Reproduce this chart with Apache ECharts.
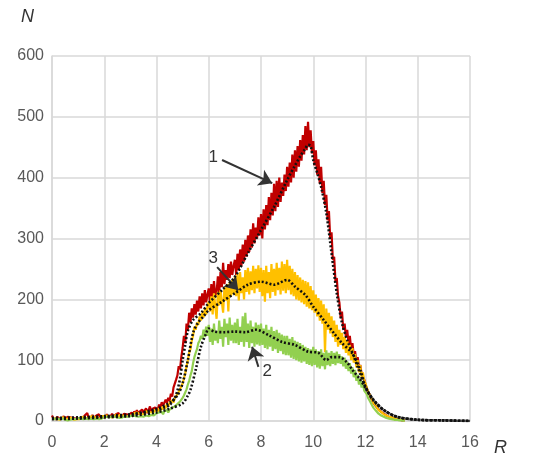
<!DOCTYPE html>
<html>
<head>
<meta charset="utf-8">
<script src="https://cdn.jsdelivr.net/npm/echarts@6/dist/echarts.min.js"></script>
<style>html,body{margin:0;padding:0;background:#fff}#c{width:550px;height:464px}</style>
</head>
<body>
<div id="c"></div>
<script>
// Sample positions R = 0.00 .. 13.50 (step 0.05) for the noisy curves, 20 values per unit of R
const R_STEP = 0.05;
const red1 = [
  9,4,6,3,7,5,3,6,4,8,3,5,7,4,6,3,5,8,4,6,
  5,8,4,7,5,9,6,13,5,8,6,10,5,7,9,6,11,5,8,6,
  9,6,11,7,10,8,12,7,9,11,8,13,7,10,8,12,9,11,8,10,
  11,14,10,16,12,18,11,15,13,19,14,17,21,13,18,24,15,20,17,22,
  24,19,27,22,31,25,28,35,30,38,33,45,40,55,52,68,75,90,85,105,
  120,140,128,160,150,178,162,185,170,192,175,198,180,205,185,210,190,215,195,208,
  218,192,225,200,230,205,212,238,210,245,220,260,225,248,232,258,235,262,240,255,
  265,240,275,248,282,255,290,262,298,270,305,278,315,285,325,292,318,300,335,305,
  340,300,348,315,355,322,368,330,375,338,390,345,395,352,400,360,392,370,405,378,
  418,385,425,392,438,400,445,410,452,418,462,428,470,438,485,445,492,450,478,440,
  460,420,445,405,430,390,418,375,395,355,372,330,345,300,310,265,270,230,235,205,
  195,170,180,150,160,138,150,128,140,118,128,108,115,98,105,88,92,78,80,68,
  60,54,48,44,38,34,30,27,24,21,19,17,15,13,12,10,9,8,7,6,
  6,5,4,4,3,3,2,2,1,1,1
];
const yellow3 = [
  5,2,4,6,3,5,2,4,6,3,5,4,2,6,3,5,4,2,5,3,
  6,3,5,7,4,6,8,4,5,7,4,8,5,6,9,5,7,4,8,6,
  8,5,9,6,7,10,6,9,7,11,6,8,10,7,9,12,7,10,8,11,
  9,12,8,13,10,14,11,12,15,11,14,12,16,13,15,18,14,17,15,19,
  18,15,21,17,23,19,25,21,28,24,30,27,34,30,38,36,44,42,52,50,
  62,70,78,90,100,112,118,132,140,155,150,162,158,172,165,178,170,185,175,188,
  196,180,205,175,210,188,168,212,190,215,196,178,220,198,225,180,228,204,232,208,
  238,205,242,198,245,210,236,200,248,212,252,208,246,215,255,210,250,218,256,212,
  252,205,248,196,255,210,245,202,258,212,250,206,260,215,252,208,262,214,258,210,
  265,215,255,208,250,205,245,200,240,198,236,195,232,192,230,188,228,185,222,182,
  215,178,208,172,202,165,198,160,192,113,185,150,178,144,172,138,165,130,158,122,
  150,125,145,118,138,112,132,108,125,100,120,96,110,88,100,80,92,72,80,66,
  62,54,48,44,40,35,30,27,25,22,18,16,15,13,11,10,9,8,7,6,
  6,5,4,4,3,3,2,2,2,1,1
];
const green2 = [
  4,2,3,1,4,2,3,2,4,3,2,4,1,3,2,4,3,1,3,2,
  5,3,4,6,3,5,4,6,3,5,4,7,3,5,4,6,3,5,4,6,
  6,4,7,5,6,4,8,5,7,4,6,8,5,7,6,4,8,5,7,6,
  8,6,9,7,8,10,7,9,8,11,7,10,9,12,8,11,10,13,9,12,
  13,10,14,12,15,11,16,13,18,14,19,16,22,19,24,21,28,26,32,30,
  38,42,45,52,60,66,75,82,95,105,112,118,128,132,140,135,150,138,155,140,
  158,130,152,125,160,132,148,128,165,135,155,122,168,138,160,125,170,132,158,128,
  162,128,168,125,155,130,172,122,178,130,160,120,165,128,155,122,162,126,158,124,
  160,125,152,120,158,118,150,122,155,115,148,118,150,112,145,115,142,110,140,108,
  140,108,135,104,138,102,132,100,130,98,128,96,125,98,122,94,120,92,118,90,
  122,92,118,88,115,86,118,90,112,85,116,92,112,90,115,94,112,92,114,95,
  110,94,106,90,104,86,98,82,95,78,88,72,84,66,76,60,70,55,62,50,
  50,44,38,34,30,26,22,19,17,14,12,10,9,8,7,6,5,4,4,3,
  3,3,2,2,2,1,1,1,1,0,0
];
// Smoothed (black dotted) curves
const avg1X = [0,1,2,3,3.5,4,4.3,4.5,4.7,4.8,4.9,5.0,5.1,5.2,5.4,5.7,6.0,6.5,7.0,7.5,8.0,8.5,9.0,9.3,9.5,9.7,9.8,9.9,10.0,10.15,10.3,10.5,10.7,10.9,11.1,11.3,11.5,11.7,12.0,12.3,12.7,13.2,14,15,16];
const avg1Y = [5,6,8,11,14,18,22,26,38,50,70,100,125,148,166,177,194,215,237,276,314,352,396,420,435,448,454,452,429,408,385,342,276,210,161,133,112,89,56,35,18,7,2,1,0];
const avg2X = [0,1,2,3,4,4.5,5.0,5.2,5.3,5.5,5.7,5.9,6.0,6.2,6.6,7.0,7.4,7.8,8.3,8.8,9.3,9.8,10.2,10.5,10.7,11.0,11.3,11.5,11.8,12.0,12.3,12.7,13.2,14,15,16];
const avg2Y = [3,4,6,8,14,20,29,42,51,84,122,144,152,147,146,147,146,150,141,130,125,114,112,100,105,105,96,84,68,54,34,18,7,2,1,0];
const avg3X = [0,1,2,3,4,4.5,4.8,5.0,5.2,5.4,5.6,5.8,6.0,6.5,7.0,7.5,8.0,8.5,9.0,9.3,9.7,10.0,10.4,10.8,11.1,11.5,11.8,12.0,12.3,12.7,13.2,14,15,16];
const avg3Y = [4,5,7,10,20,30,42,62,100,145,162,172,182,196,210,224,229,224,232,221,207,188,166,144,128,111,84,56,35,18,7,2,1,0];
// Annotations: label, label position, arrow start, arrow tip (data units)
const notes = [
  {label:'1', at:[6.17,434], from:[6.51,429], to:[8.43,391]},
  {label:'3', at:[6.17,268], from:[6.32,253], to:[7.13,215]},
  {label:'2', at:[8.24,81],  from:[7.90,89],  to:[7.66,122]}
];
const xTicks = {min:0, max:16, interval:2};
const yTicks = {min:0, max:600, interval:100};

function pairs(vals){ return vals.map((v,i)=>[+(i*R_STEP).toFixed(2), v]); }
function zipXY(xs, ys){ return xs.map((x,i)=>[x, ys[i]]); }

const chart = echarts.init(document.getElementById('c'), null, {renderer:'canvas'});
const gridColor = '#d9d9d9';
const labelColor = '#595959';
const font = 'Liberation Sans, Arial, sans-serif';

const noisy = (name, color, vals) => ({
  name, type:'line', data: pairs(vals), showSymbol:false, symbol:'none',
  lineStyle:{color, width:2.2}, animation:false, z:2
});
const avg = (name, xs, ys) => ({
  name, type:'line', data: zipXY(xs, ys), showSymbol:false, symbol:'none', smooth:0.3,
  lineStyle:{color:'#111', width:2.6, type:[2,2]}, animation:false, z:5
});

const arrowSeries = {
  type:'line', data:[], animation:false, z:10,
  markLine:{
    silent:true, animation:false, symbol:['none','triangle'], symbolSize:[0,11],
    lineStyle:{color:'#333', width:2, type:'solid'}, label:{show:false},
    data: notes.map(n=>[{coord:n.from, symbol:'none'},{coord:n.to, symbol:'arrow', symbolSize:13}])
  },
  markPoint:{
    silent:true, animation:false, symbol:'circle', symbolSize:0,
    label:{show:true, color:'#333', fontSize:17, fontFamily:font, formatter:p=>p.name, position:'inside'},
    data: notes.map(n=>({name:n.label, coord:n.at}))
  }
};

chart.setOption({
  backgroundColor:'#fff',
  animation:false,
  grid:{left:52, right:80, top:56, bottom:43, containLabel:false},
  xAxis:{
    type:'value', min:xTicks.min, max:xTicks.max, interval:xTicks.interval,
    axisLine:{show:true, lineStyle:{color:gridColor, width:1.5}},
    axisTick:{show:false},
    splitLine:{show:true, lineStyle:{color:gridColor, width:1.5}},
    axisLabel:{color:labelColor, fontSize:16, fontFamily:font, margin:14}
  },
  yAxis:{
    type:'value', min:yTicks.min, max:yTicks.max, interval:yTicks.interval,
    axisLine:{show:true, lineStyle:{color:gridColor, width:1.5}},
    axisTick:{show:false},
    splitLine:{show:true, lineStyle:{color:gridColor, width:1.5}},
    axisLabel:{color:labelColor, fontSize:16, fontFamily:font, margin:8}
  },
  graphic:[
    {type:'text', left:21, top:8, style:{text:'N', fill:'#333', font:'italic 18px '+font}},
    {type:'text', left:494, top:439, style:{text:'R', fill:'#333', font:'italic 18px '+font}}
  ],
  series:[
    noisy('1', '#c00000', red1),
    noisy('3', '#ffc000', yellow3),
    noisy('2', '#92d050', green2),
    avg('avg1', avg1X, avg1Y),
    avg('avg3', avg3X, avg3Y),
    avg('avg2', avg2X, avg2Y),
    arrowSeries
  ]
});
</script>
</body>
</html>
